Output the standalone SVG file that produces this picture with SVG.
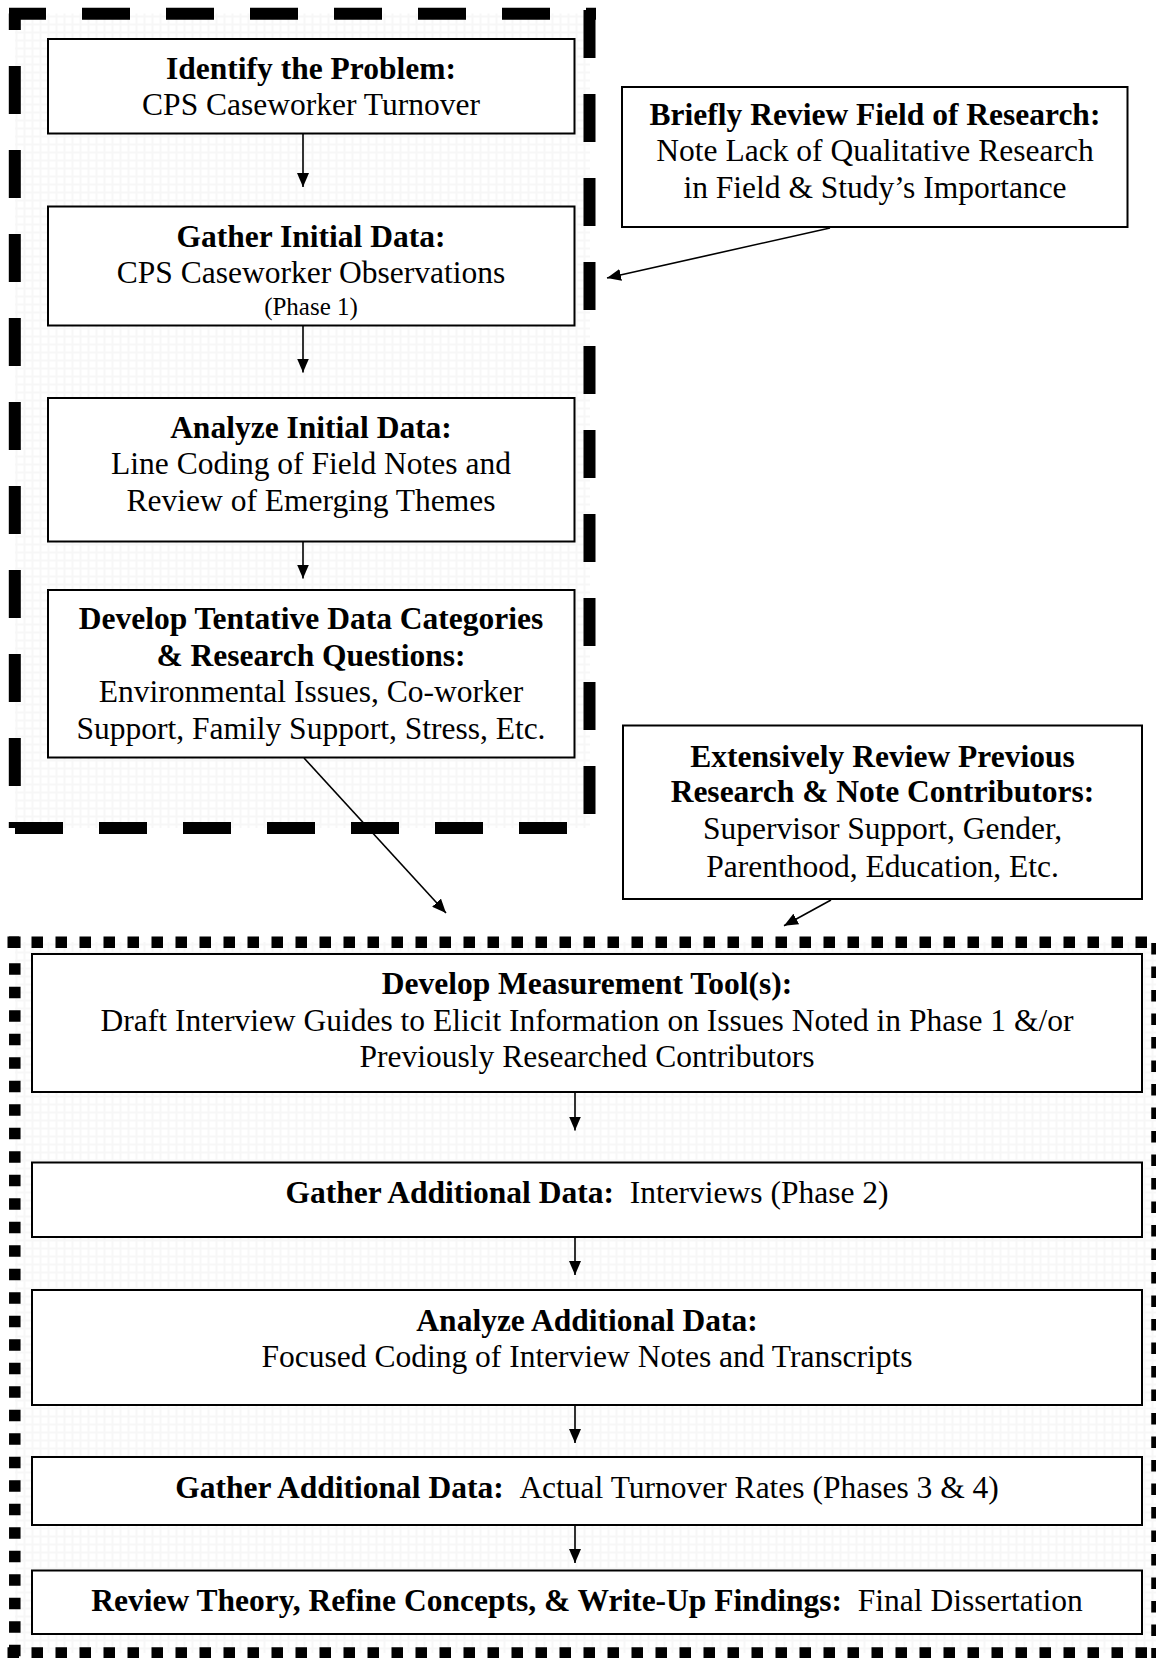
<svg xmlns="http://www.w3.org/2000/svg" width="1156" height="1658" viewBox="0 0 1156 1658">
  <style>
    .box { fill: #ffffff; stroke: #000000; stroke-width: 2; }
    .t { font-family: "Liberation Serif", "Times New Roman", serif; font-size: 31.5px; fill: #000000; text-anchor: middle; }
    .b { font-weight: bold; }
    .small { font-size: 25px; }
    .link { stroke: #000000; stroke-width: 1.6; fill: none; marker-end: url(#ah); }
    .dash { stroke: #000000; stroke-width: 12; fill: none; stroke-dasharray: 48 36; }
    .dot { stroke: #000000; stroke-width: 11.5; fill: none; }
  </style>
  <defs>
    <marker id="ah" markerWidth="14" markerHeight="12" refX="14" refY="6" orient="auto" markerUnits="userSpaceOnUse">
      <path d="M0,0 L14,6 L0,12 z" fill="#000000"/>
    </marker>
    <pattern id="grid" width="8" height="8" patternUnits="userSpaceOnUse">
      <rect width="8" height="8" fill="#f7f7f7"/>
      <rect x="1.5" y="1.5" width="6" height="6" fill="#ffffff"/>
    </pattern>
  </defs>

  <rect width="1156" height="1658" fill="#ffffff"/>

  <!-- Phase 1 frame (heavy dashes) -->
  <g id="frame-phase1">
    <rect x="15" y="13.5" width="575" height="814.5" fill="url(#grid)"/>
    <line class="dash" x1="9" y1="13.7" x2="596" y2="13.7" stroke-dashoffset="11"/>
    <line class="dash" x1="589.5" y1="10" x2="589.5" y2="828"/>
    <line class="dash" x1="15" y1="828" x2="589.5" y2="828"/>
    <line class="dash" x1="14.8" y1="13.5" x2="14.8" y2="828" stroke-dashoffset="31.5"/>
  </g>

  <!-- Phase 2 frame (square dots) -->
  <g id="frame-phase2">
    <rect x="15" y="942" width="1142" height="711" fill="url(#grid)"/>
    <line class="dot" x1="7.5" y1="942.2" x2="1160" y2="942.2" stroke-dasharray="11.5 12.5"/>
    <line class="dot" x1="1157" y1="943" x2="1157" y2="1660" stroke-dasharray="11.5 12"/>
    <line class="dot" x1="7.5" y1="1653" x2="1160" y2="1653" stroke-dasharray="11.5 12.5"/>
    <line class="dot" x1="14.8" y1="936.5" x2="14.8" y2="948"/>
    <line class="dot" x1="14.8" y1="963.3" x2="14.8" y2="1660" stroke-dasharray="11.5 12"/>
  </g>

  <!-- Connectors -->
  <g id="connectors">
    <line class="link" x1="303" y1="133.5" x2="303" y2="187"/>
    <line class="link" x1="303" y1="325.5" x2="303" y2="372.5"/>
    <line class="link" x1="303" y1="541.5" x2="303" y2="578.5"/>
    <line class="link" x1="830" y1="228" x2="607" y2="278"/>
    <line class="link" x1="304" y1="758" x2="446" y2="913"/>
    <line class="link" x1="831" y1="900" x2="784" y2="925.7"/>
    <line class="link" x1="575" y1="1092" x2="575" y2="1130.5"/>
    <line class="link" x1="575" y1="1237" x2="575" y2="1275"/>
    <line class="link" x1="575" y1="1405" x2="575" y2="1443"/>
    <line class="link" x1="575" y1="1525" x2="575" y2="1563"/>
  </g>

  <g id="identify-problem">
    <rect class="box" x="48" y="39" width="526.5" height="94.5"/>
    <text class="t b" x="311" y="79">Identify the Problem:</text>
    <text class="t" x="311" y="114.5">CPS Caseworker Turnover</text>
  </g>

  <g id="gather-initial">
    <rect class="box" x="48" y="206.5" width="526.5" height="119"/>
    <text class="t b" x="311" y="246.5">Gather Initial Data:</text>
    <text class="t" x="311" y="282.5">CPS Caseworker Observations</text>
    <text class="t small" x="311" y="314.5">(Phase 1)</text>
  </g>

  <g id="analyze-initial">
    <rect class="box" x="48" y="398" width="526.5" height="143.5"/>
    <text class="t b" x="311" y="438">Analyze Initial Data:</text>
    <text class="t" x="311" y="473.5">Line Coding of Field Notes and</text>
    <text class="t" x="311" y="510.5">Review of Emerging Themes</text>
  </g>

  <g id="develop-categories">
    <rect class="box" x="48" y="590" width="526.5" height="167.5"/>
    <text class="t b" x="311" y="628.5">Develop Tentative Data Categories</text>
    <text class="t b" x="311" y="665.5">&amp; Research Questions:</text>
    <text class="t" x="311" y="702">Environmental Issues, Co-worker</text>
    <text class="t" x="311" y="739">Support, Family Support, Stress, Etc.</text>
  </g>

  <g id="brief-review">
    <rect class="box" x="622" y="87" width="505.5" height="140"/>
    <text class="t b" x="875" y="124.5">Briefly Review Field of Research:</text>
    <text class="t" x="875" y="160.5">Note Lack of Qualitative Research</text>
    <text class="t" x="875" y="198">in Field &amp; Study’s Importance</text>
  </g>

  <g id="extensive-review">
    <rect class="box" x="623" y="725.5" width="519" height="173.5"/>
    <text class="t b" x="882.5" y="766.5">Extensively Review Previous</text>
    <text class="t b" x="882.5" y="802">Research &amp; Note Contributors:</text>
    <text class="t" x="882.5" y="839">Supervisor Support, Gender,</text>
    <text class="t" x="882.5" y="877">Parenthood, Education, Etc.</text>
  </g>

  <g id="measurement-tools">
    <rect class="box" x="32" y="954" width="1110" height="138"/>
    <text class="t b" x="587" y="993.5">Develop Measurement Tool(s):</text>
    <text class="t" x="587" y="1030.5">Draft Interview Guides to Elicit Information on Issues Noted in Phase 1 &amp;/or</text>
    <text class="t" x="587" y="1066.5">Previously Researched Contributors</text>
  </g>

  <g id="gather-interviews">
    <rect class="box" x="32" y="1162.5" width="1110" height="74.5"/>
    <text class="t" x="587" y="1202.5"><tspan class="b">Gather Additional Data:</tspan> &#160;Interviews (Phase 2)</text>
  </g>

  <g id="analyze-additional">
    <rect class="box" x="32" y="1290" width="1110" height="115"/>
    <text class="t b" x="587" y="1331">Analyze Additional Data:</text>
    <text class="t" x="587" y="1367">Focused Coding of Interview Notes and Transcripts</text>
  </g>

  <g id="gather-turnover">
    <rect class="box" x="32" y="1457" width="1110" height="68"/>
    <text class="t" x="587" y="1497.5"><tspan class="b">Gather Additional Data:</tspan> &#160;Actual Turnover Rates (Phases 3 &amp; 4)</text>
  </g>

  <g id="write-up">
    <rect class="box" x="32" y="1570.5" width="1110" height="63.5"/>
    <text class="t" x="587" y="1611"><tspan class="b">Review Theory, Refine Concepts, &amp; Write-Up Findings:</tspan> &#160;Final Dissertation</text>
  </g>
</svg>
